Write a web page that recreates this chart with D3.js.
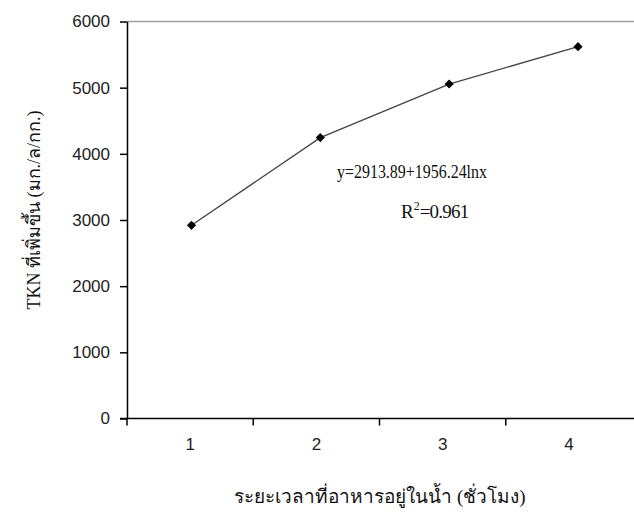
<!doctype html>
<html>
<head>
    <title>TKN chart</title>
    <meta charset="utf-8">
    <script src="https://d3js.org/d3.v7.min.js"></script>
    <style>
        body { margin: 0; background: #fff; }
        svg { display: block; }
        .serif { font-family: "Liberation Serif", "Times New Roman", serif; fill: #111; }
    </style>
</head>
<body>
    <svg width="634" height="515"></svg>
    <script>
        // data
        var hours = ["1", "2", "3", "4"];
        var tkn = [2920, 4245, 5055, 5620];
        var yTicks = [0, 1000, 2000, 3000, 4000, 5000, 6000];

        var svg = d3.select("svg");
        var plotLeft = 127, plotRight = 632, plotTop = 21.5, plotBottom = 418.5;

        var xScale = d3.scaleBand().domain(hours).range([plotLeft, plotRight]);
        // markers sit a little right of the band centres in the original
        var xPoint = d3.scalePoint().domain(hours).range([191.5, 578]);
        var yScale = d3.scaleLinear().domain([0, 6000]).range([plotBottom, plotTop]);

        // grey top border
        svg.append("line")
            .attr("x1", plotLeft).attr("x2", 634)
            .attr("y1", yScale(6000)).attr("y2", yScale(6000))
            .attr("stroke", "#a0a0a0").attr("stroke-width", 1.5);

        // y axis
        var yAxis = svg.append("g")
            .attr("transform", "translate(" + plotLeft + ",0)")
            .call(d3.axisLeft(yScale).tickValues(yTicks).tickFormat(d3.format("d"))
                .tickSize(7).tickPadding(10).tickSizeOuter(0));
        yAxis.select(".domain").attr("stroke", "#000").attr("stroke-width", 1.5);
        yAxis.selectAll(".tick line").attr("stroke", "#000").attr("stroke-width", 1.5);

        // x axis, ticks on band boundaries
        var xAxis = svg.append("g")
            .attr("transform", "translate(0," + plotBottom + ")")
            .call(d3.axisBottom(xScale).tickSize(0).tickPadding(19));
        xAxis.select(".domain").attr("d", "M" + (plotLeft - 7) + ",0H634").attr("stroke", "#000").attr("stroke-width", 1.5);
        xAxis.selectAll(".bound")
            .data(hours)
            .enter().append("line")
            .attr("x1", function(d) { return xScale(d); })
            .attr("x2", function(d) { return xScale(d); })
            .attr("y1", 0).attr("y2", 7)
            .attr("stroke", "#000").attr("stroke-width", 1.5);

        svg.selectAll(".tick text")
            .attr("font-family", "'Liberation Sans', Arial, sans-serif")
            .attr("font-size", 17)
            .attr("fill", "#222");

        // line + markers
        var line = d3.line()
            .x(function(d, i) { return xPoint(hours[i]); })
            .y(function(d) { return yScale(d); });

        svg.append("path")
            .datum(tkn)
            .attr("d", line)
            .attr("fill", "none")
            .attr("stroke", "#444")
            .attr("stroke-width", 1.3);

        svg.selectAll(".pt")
            .data(tkn)
            .enter().append("path")
            .attr("class", "pt")
            .attr("transform", function(d, i) { return "translate(" + xPoint(hours[i]) + "," + yScale(d) + ") rotate(45)"; })
            .attr("d", d3.symbol().type(d3.symbolSquare).size(42))
            .attr("fill", "#000");

        // equation
        svg.append("text").attr("class", "serif")
            .attr("x", 337).attr("y", 178)
            .attr("font-size", 19)
            .attr("textLength", 150).attr("lengthAdjust", "spacingAndGlyphs")
            .text("y=2913.89+1956.24lnx");
        var r2 = svg.append("text").attr("class", "serif")
            .attr("x", 401).attr("y", 218)
            .attr("font-size", 19);
        r2.append("tspan").text("R");
        r2.append("tspan").attr("dy", -8).attr("font-size", 12).text("2");
        r2.append("tspan").attr("dy", 8).attr("letter-spacing", -0.8).text("=0.961");

        // axis titles
        svg.append("text").attr("class", "serif")
            .attr("x", 380).attr("y", 503)
            .attr("text-anchor", "middle")
            .attr("font-size", 19)
            .text("ระยะเวลาที่อาหารอยู่ในน้ำ (ชั่วโมง)");

        svg.append("text").attr("class", "serif")
            .attr("transform", "translate(40,210) rotate(-90)")
            .attr("text-anchor", "middle")
            .attr("font-size", 18)
            .text("TKN ที่เพิ่มขึ้น (มก./ล/กก.)");
    </script>
</body>
</html>
